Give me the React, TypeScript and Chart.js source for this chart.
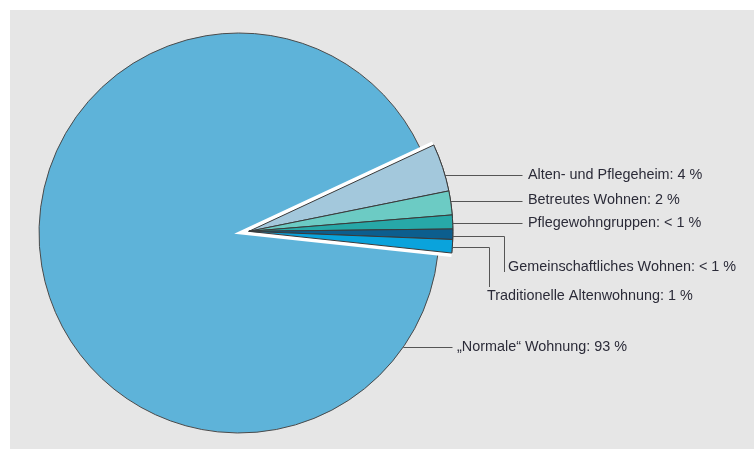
import React, { useEffect, useRef } from "react";
import { Chart, registerables } from "chart.js";

Chart.register(...registerables);

const categories = [
  "„Normale“ Wohnung",
  "Alten- und Pflegeheim",
  "Betreutes Wohnen",
  "Pflegewohngruppen",
  "Gemeinschaftliches Wohnen",
  "Traditionelle Altenwohnung",
];
// slice sizes as drawn in the picture (percent of the circle)
const shares = [91.35, 3.78, 1.89, 1.1, 0.82, 1.06];
// printed values
const shareLabels = ["93 %", "4 %", "2 %", "< 1 %", "< 1 %", "1 %"];
const colors = ["#5eb3d9", "#a3c8dc", "#6ccbc4", "#27a8a8", "#0c5e8e", "#0aa3dc"];

const GROUP_OFFSET = 10;
const GROUP_SCALE = 1.02;
const FONT = '14.4px "Liberation Sans", Arial, sans-serif';
const TEXT_COLOR = "#2b2b38";
const LINE_COLOR = "#555555";

// label layout (leader line y, end x, optional drop, text position)
const labelLayout = [
  { y: 337, endX: 442, textX: 447, textY: 337 },
  { y: 165, endX: 512, textX: 518, textY: 165 },
  { y: 190.5, endX: 512, textX: 518, textY: 190.5 },
  { y: 213, endX: 512, textX: 518, textY: 213 },
  { y: 226, endX: 494, dropTo: 262, textX: 498, textY: 257 },
  { y: 237, endX: 479, dropTo: 277, textX: 477, textY: 286 },
];

const explodePlugin = {
  id: "explodeGroup",
  afterDatasetsUpdate(chart: any) {
    const arcs = chart.getDatasetMeta(0).data;
    const first = arcs[1];
    const last = arcs[arcs.length - 1];
    const mid = (first.startAngle + last.endAngle) / 2;
    for (let i = 1; i < arcs.length; i++) {
      const a = arcs[i];
      a.x += GROUP_OFFSET * Math.cos(mid);
      a.y += GROUP_OFFSET * Math.sin(mid);
      a.outerRadius = a.outerRadius * GROUP_SCALE;
    }
  },
  afterDatasetsDraw(chart: any) {
    const ctx = chart.ctx;
    const arcs = chart.getDatasetMeta(0).data;
    const first = arcs[1];
    const last = arcs[arcs.length - 1];
    const cx = first.x;
    const cy = first.y;
    const R = first.outerRadius;
    ctx.save();
    ctx.strokeStyle = "#ffffff";
    ctx.lineWidth = 8;
    ctx.lineJoin = "miter";
    ctx.beginPath();
    ctx.moveTo(cx + R * Math.cos(first.startAngle), cy + R * Math.sin(first.startAngle));
    ctx.lineTo(cx, cy);
    ctx.lineTo(cx + R * Math.cos(last.endAngle), cy + R * Math.sin(last.endAngle));
    ctx.stroke();
    ctx.restore();
    for (let i = 1; i < arcs.length; i++) arcs[i].draw(ctx, chart.chartArea);
  },
  afterDraw(chart: any) {
    const ctx = chart.ctx;
    const arcs = chart.getDatasetMeta(0).data;
    ctx.save();
    ctx.font = FONT;
    ctx.textBaseline = "middle";
    ctx.textAlign = "left";
    for (let i = 0; i < categories.length; i++) {
      const el = arcs[i];
      const L: any = labelLayout[i];
      const R = el.outerRadius;
      const dy = L.y - el.y;
      const x0 = el.x + Math.sqrt(Math.max(R * R - dy * dy, 0));
      ctx.strokeStyle = LINE_COLOR;
      ctx.lineWidth = 1;
      ctx.beginPath();
      ctx.moveTo(x0, Math.round(L.y) + 0.5);
      ctx.lineTo(L.endX + 0.5, Math.round(L.y) + 0.5);
      if (L.dropTo !== undefined) ctx.lineTo(L.endX + 0.5, L.dropTo);
      ctx.stroke();
      ctx.fillStyle = TEXT_COLOR;
      ctx.fillText(`${categories[i]}: ${shareLabels[i]}`, L.textX, L.textY);
    }
    ctx.restore();
  },
};

export default function App() {
  const ref = useRef<HTMLCanvasElement | null>(null);
  useEffect(() => {
    if (!ref.current) return;
    const chart = new Chart(ref.current, {
      type: "pie",
      data: {
        labels: categories,
        datasets: [
          {
            data: shares,
            backgroundColor: colors,
            borderColor: ["#4a4a4a", "#3a3a3a", "#3a3a3a", "#3a3a3a", "#3a3a3a", "#3a3a3a"],
            borderWidth: 1,
          },
        ],
      },
      options: {
        responsive: false,
        animation: false,
        events: [],
        rotation: 96.1,
        layout: { padding: { left: 28.5, top: 22.5, right: 314.5, bottom: 15.5 } },
        plugins: { legend: { display: false }, tooltip: { enabled: false } },
      },
      plugins: [explodePlugin],
    });
    return () => chart.destroy();
  }, []);
  return (
    <div
      style={{
        position: "absolute",
        left: 10,
        top: 10,
        width: 744,
        height: 439,
        background: "#e6e6e6",
      }}
    >
      <canvas ref={ref} width={744} height={439} style={{ display: "block", width: 744, height: 439 }} />
    </div>
  );
}
